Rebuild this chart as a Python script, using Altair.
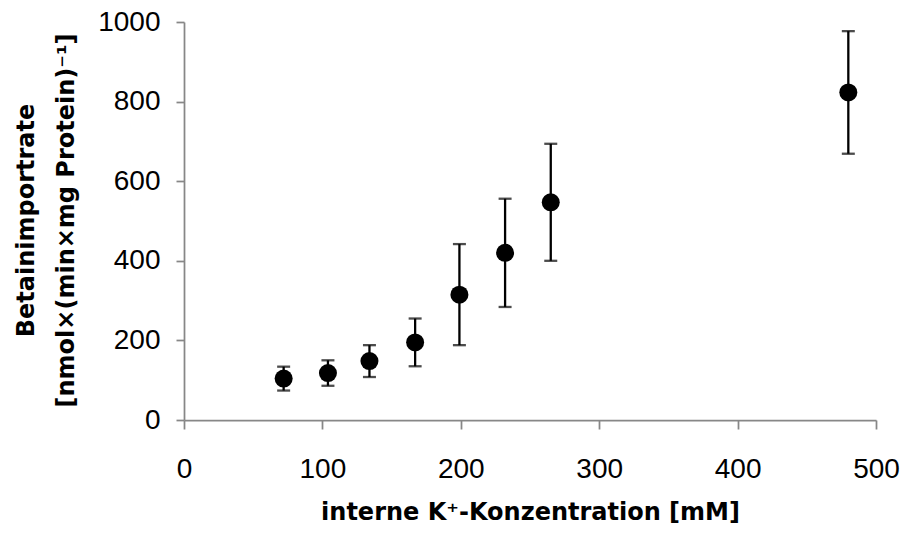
import altair as alt
import pandas as pd

# data
k_conc = [72, 104, 134, 167, 199, 232, 265, 480]
rate = [104, 118, 148, 195, 315, 420, 547, 823]
rate_err = [30, 32, 40, 60, 127, 136, 147, 154]

x_ticks = [0, 100, 200, 300, 400, 500]
y_ticks = [0, 200, 400, 600, 800, 1000]

df = pd.DataFrame({"k": k_conc, "rate": rate, "err": rate_err})
df["lo"] = df["rate"] - df["err"]
df["hi"] = df["rate"] + df["err"]

AX = "#878787"
LABEL_FONT = "Liberation Sans"
TITLE_FONT = "DejaVu Sans"

x_enc = alt.X(
    "k:Q",
    scale=alt.Scale(domain=[0, 500], nice=False, zero=True),
    axis=alt.Axis(
        values=x_ticks,
        format="d",
        title="interne K\u207a-Konzentration [mM]",
        titleFont=TITLE_FONT,
        titleFontSize=24,
        titleFontWeight="bold",
        titleColor="black",
        titleBaseline="alphabetic",
        titleY=99,
        labelFont=LABEL_FONT,
        labelFontSize=28,
        labelColor="black",
        labelPadding=26,
        tickSize=9,
        tickColor=AX,
        tickWidth=1.75,
        domainColor=AX,
        domainWidth=1.75,
        grid=False,
        labelFlush=False,
    ),
)

y_axis = alt.Axis(
    values=y_ticks,
    format="d",
    title=["Betainimportrate", "[nmol\u00d7(min\u00d7mg Protein)\u207b\u00b9]"],
    titleFont=TITLE_FONT,
    titleFontSize=24,
    titleFontWeight="bold",
    titleColor="black",
    titleAngle=270,
    titleAlign="center",
    titleBaseline="alphabetic",
    titleLineHeight=40,
    titleX=-151,
    titleY=198,
    labelFont=LABEL_FONT,
    labelFontSize=28,
    labelColor="black",
    labelPadding=16,
    tickSize=8,
    tickColor=AX,
    tickWidth=1.75,
    domainColor=AX,
    domainWidth=1.75,
    grid=False,
    labelFlush=False,
)

y_scale = alt.Scale(domain=[0, 1000], nice=False)

base = alt.Chart(df)

bars = base.mark_rule(color="black", strokeWidth=2.3).encode(
    x=x_enc,
    y=alt.Y("lo:Q", scale=y_scale, axis=y_axis),
    y2="hi:Q",
)

cap_lo = base.mark_tick(color="black", thickness=2.3, size=13, orient="horizontal").encode(
    x="k:Q", y=alt.Y("lo:Q", scale=y_scale)
)
cap_hi = base.mark_tick(color="black", thickness=2.3, size=13, orient="horizontal").encode(
    x="k:Q", y=alt.Y("hi:Q", scale=y_scale)
)

points = base.mark_point(filled=True, shape="circle", size=324, color="black", opacity=1).encode(
    x="k:Q", y=alt.Y("rate:Q", scale=y_scale)
)

chart = (
    alt.layer(bars, cap_lo, cap_hi, points)
    .properties(
        width=692,
        height=398,
        autosize=alt.AutoSizeParams(type="none"),
        padding={"left": 176, "top": 14, "right": 24, "bottom": 105},
        background="white",
    )
    .configure_view(stroke=None)
)

chart.save("out.html", embed_options={"renderer": "svg", "actions": False})
